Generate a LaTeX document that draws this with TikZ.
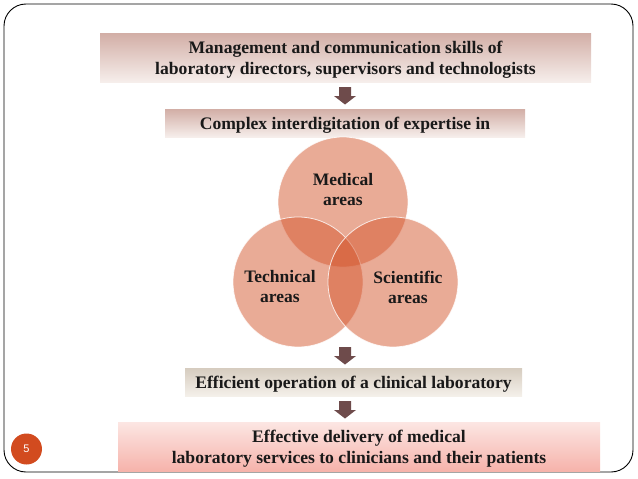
\documentclass[tikz,border=0pt]{standalone}
\usepackage{fontspec}
\setmainfont{Liberation Serif}
\setsansfont{Liberation Sans}
\usetikzlibrary{calc}
\definecolor{arrowc}{HTML}{6E4B4B}
\definecolor{venn}{HTML}{D4572E}
\definecolor{pagec}{HTML}{D24B1F}
\definecolor{b1top}{HTML}{D2AEA6}
\definecolor{b1bot}{HTML}{F6EEEB}
\definecolor{b3top}{HTML}{D6CCBF}
\definecolor{b3bot}{HTML}{F4F0EA}
\definecolor{b4top}{HTML}{FCE6E3}
\definecolor{b4bot}{HTML}{F6B3AB}
\tikzset{
  x=1pt, y=1pt,
  boxtxt/.style={font=\bfseries\fontsize{17.6}{21}\selectfont, align=center, inner sep=0pt, text=black!90, yshift=-2.5pt},
  vcirc/.style={circle, minimum size=130pt, inner sep=0pt, fill=venn, fill opacity=0.5, draw=white, draw opacity=0.8, line width=0.8pt},
  vtxt/.style={font=\bfseries\fontsize{17.5}{20}\selectfont, align=center, text=black!90},
  blockarr/.style={fill=arrowc}
}
\newcommand{\blockdown}[1]{\fill[blockarr] ($(#1)+(-6,0)$) -- ++(12,0) -- ++(0,-9) -- ++(5,0) -- ++(-11,-8.5) -- ++(-11,8.5) -- ++(5,0) -- cycle;}
\begin{document}
\begin{tikzpicture}
\useasboundingbox (0,0) rectangle (638,-479);
% frame
\draw[line width=0.9pt, rounded corners=22pt] (4,-4) rectangle (633,-472);
% box 1
\shade[top color=b1top, bottom color=b1bot] (100,-33) rectangle (591,-82);
\node[boxtxt] (b1) at (345.5,-57.5) {Management and communication skills of\\laboratory directors, supervisors and technologists};
% box 2
\shade[top color=b1top, bottom color=b1bot] (165,-109) rectangle (525,-137);
\node[boxtxt] (b2) at (345,-123) {Complex interdigitation of expertise in};
% venn
\node[vcirc] (med) at (343,-202) {};
\node[vcirc] (tech) at (298,-282) {};
\node[vcirc] (sci) at (393,-282) {};
\node[vtxt] (medt) at (343,-190) {Medical\\areas};
\node[vtxt] (techt) at (280,-287) {Technical\\areas};
\node[vtxt] (scit) at (408,-287) {Scientific\\areas};
% box 3
\shade[top color=b3top, bottom color=b3bot] (185,-368) rectangle (522,-396);
\node[boxtxt] (b3) at (353.5,-382) {Efficient operation of a clinical laboratory};
% box 4
\shade[top color=b4top, bottom color=b4bot] (118,-422) rectangle (600,-471);
\node[boxtxt] (b4) at (359,-446.5) {Effective delivery of medical\\laboratory services to clinicians and their patients};
% arrows
\coordinate (a1) at (345,-87);
\coordinate (a2) at (345,-347);
\coordinate (a3) at (345,-401);
\blockdown{a1}
\blockdown{a2}
\blockdown{a3}
% page number
\node[circle, fill=pagec, minimum size=31pt, inner sep=0pt, text=white, font=\sffamily\fontsize{11}{12}\selectfont] (pg) at (26.5,-449) {5};
\end{tikzpicture}
\end{document}
